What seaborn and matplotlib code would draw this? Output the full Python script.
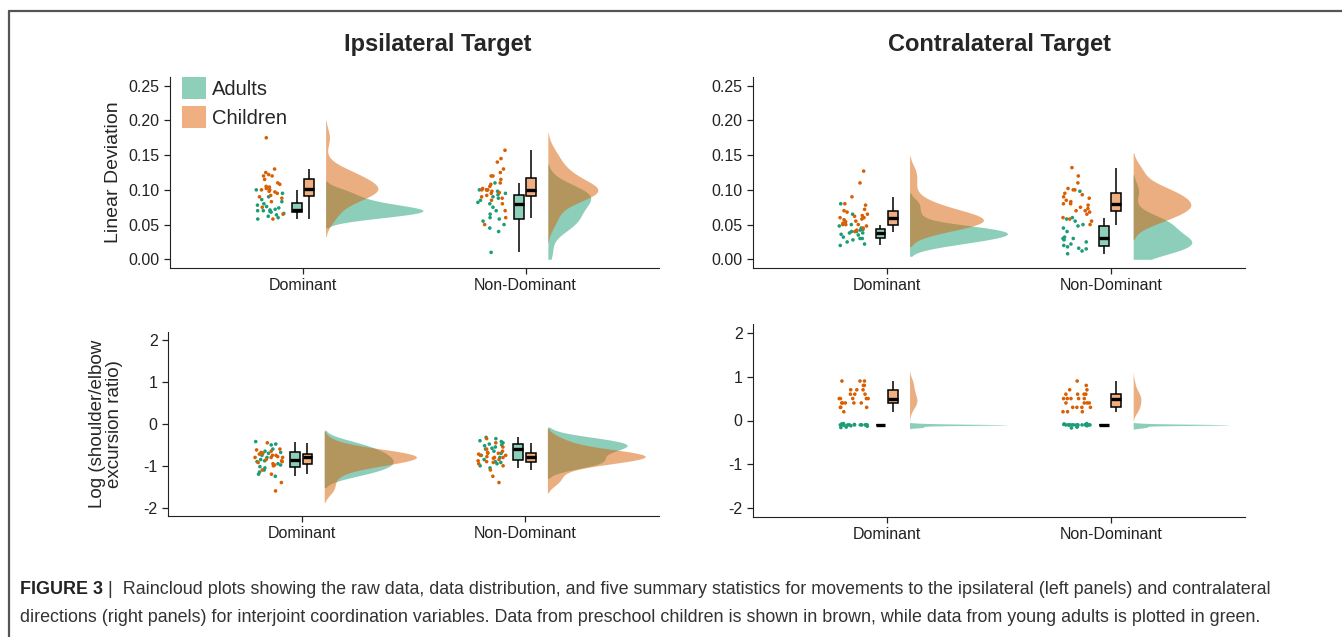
import numpy as np
import pandas as pd
import matplotlib
matplotlib.use('Agg')
import matplotlib.pyplot as plt
import seaborn as sns
from matplotlib.patches import Patch
from matplotlib.lines import Line2D

np.random.seed(7)

sides = ['Dominant', 'Non-Dominant']
groups = ['Adults', 'Children']

# Linear deviation - ipsilateral target
lin_ipsi_adults_dom = [0.058, 0.06, 0.062, 0.064, 0.066, 0.068, 0.069, 0.07, 0.07, 0.071,
                       0.072, 0.074, 0.076, 0.078, 0.08, 0.083, 0.086, 0.09, 0.095, 0.1]
lin_ipsi_children_dom = [0.058, 0.065, 0.075, 0.083, 0.088, 0.09, 0.092, 0.095, 0.097, 0.098,
                         0.1, 0.1, 0.102, 0.104, 0.105, 0.108, 0.11, 0.115, 0.12, 0.12,
                         0.122, 0.125, 0.13, 0.175]
lin_ipsi_adults_nd = [0.01, 0.04, 0.045, 0.05, 0.055, 0.058, 0.06, 0.065, 0.07, 0.075,
                      0.08, 0.082, 0.085, 0.088, 0.09, 0.093, 0.095, 0.098, 0.1, 0.1, 0.11]
lin_ipsi_children_nd = [0.05, 0.06, 0.07, 0.08, 0.085, 0.088, 0.09, 0.092, 0.095, 0.096,
                        0.098, 0.1, 0.1, 0.1, 0.1, 0.102, 0.105, 0.108, 0.11, 0.115,
                        0.12, 0.12, 0.125, 0.13, 0.14, 0.145, 0.157]

# Linear deviation - contralateral target
lin_contra_adults_dom = [0.02, 0.022, 0.025, 0.028, 0.03, 0.03, 0.032, 0.035, 0.036, 0.038,
                         0.038, 0.04, 0.04, 0.042, 0.043, 0.045, 0.048, 0.05, 0.065, 0.08]
lin_contra_children_dom = [0.04, 0.042, 0.045, 0.048, 0.05, 0.05, 0.05, 0.052, 0.054, 0.055,
                           0.057, 0.058, 0.06, 0.06, 0.062, 0.063, 0.065, 0.068, 0.07, 0.072,
                           0.078, 0.08, 0.09, 0.11, 0.127]
lin_contra_adults_nd = [0.008, 0.012, 0.015, 0.016, 0.018, 0.02, 0.022, 0.025, 0.028, 0.03,
                        0.03, 0.032, 0.04, 0.045, 0.048, 0.05, 0.055, 0.058, 0.06, 0.098]
lin_contra_children_nd = [0.05, 0.055, 0.058, 0.06, 0.065, 0.068, 0.07, 0.07, 0.073, 0.075,
                          0.078, 0.08, 0.08, 0.083, 0.085, 0.088, 0.09, 0.093, 0.095, 0.1,
                          0.1, 0.102, 0.11, 0.12, 0.132]

# Log shoulder/elbow excursion ratio - ipsilateral target
log_ipsi_adults_dom = [-1.25, -1.2, -1.15, -1.1, -1.05, -1.02, -0.98, -0.95, -0.9, -0.88,
                       -0.85, -0.8, -0.75, -0.7, -0.68, -0.65, -0.6, -0.5, -0.48, -0.42]
log_ipsi_children_dom = [-1.6, -1.4, -1.2, -1.1, -1.0, -0.98, -0.95, -0.92, -0.9, -0.88,
                         -0.85, -0.8, -0.8, -0.8, -0.78, -0.75, -0.75, -0.72, -0.7, -0.68,
                         -0.65, -0.62, -0.6, -0.45]
log_ipsi_adults_nd = [-1.05, -1.0, -0.95, -0.92, -0.9, -0.85, -0.8, -0.75, -0.7, -0.65,
                      -0.6, -0.58, -0.55, -0.52, -0.5, -0.48, -0.45, -0.42, -0.4, -0.35, -0.32]
log_ipsi_children_nd = [-1.4, -1.25, -1.1, -1.0, -0.95, -0.92, -0.9, -0.88, -0.85, -0.82,
                        -0.8, -0.8, -0.78, -0.75, -0.75, -0.72, -0.7, -0.7, -0.68, -0.65,
                        -0.6, -0.55, -0.45, -0.35]

# Log shoulder/elbow excursion ratio - contralateral target
log_contra_adults_dom = [-0.16, -0.15, -0.13, -0.12, -0.1, -0.1, -0.1, -0.1, -0.1, -0.1,
                         -0.1, -0.1, -0.1, -0.1, -0.1, -0.1, -0.09, -0.08, -0.08, -0.07]
log_contra_children_dom = [0.2, 0.3, 0.3, 0.3, 0.4, 0.4, 0.4, 0.4, 0.4, 0.5,
                           0.5, 0.5, 0.5, 0.5, 0.6, 0.6, 0.6, 0.7, 0.7, 0.7,
                           0.8, 0.8, 0.9, 0.9, 0.9]
log_contra_adults_nd = [-0.17, -0.15, -0.14, -0.12, -0.1, -0.1, -0.1, -0.1, -0.1, -0.1,
                        -0.1, -0.1, -0.1, -0.1, -0.1, -0.1, -0.09, -0.09, -0.08, -0.07]
log_contra_children_nd = [0.2, 0.2, 0.2, 0.3, 0.3, 0.3, 0.3, 0.4, 0.4, 0.4,
                          0.4, 0.5, 0.5, 0.5, 0.5, 0.5, 0.6, 0.6, 0.6, 0.6,
                          0.7, 0.7, 0.8, 0.9]

point_colors = {'Adults': '#1B9E77', 'Children': '#D95F02'}
fill_colors = {'Adults': '#8ECFB9', 'Children': '#EFAF80'}

sns.set_style('ticks')
plt.rcParams['font.family'] = ['Liberation Sans', 'DejaVu Sans']
plt.rcParams['axes.edgecolor'] = '#222222'


def make_df(a_dom, c_dom, a_nd, c_nd):
    rows = []
    for side, grp, vals in [('Dominant', 'Adults', a_dom), ('Dominant', 'Children', c_dom),
                            ('Non-Dominant', 'Adults', a_nd), ('Non-Dominant', 'Children', c_nd)]:
        for v in vals:
            rows.append((side, grp, v))
    df = pd.DataFrame(rows, columns=['side', 'group', 'value'])
    df['pos'] = df['side'].map({s: i for i, s in enumerate(sides)})
    return df


def raincloud(ax, df, ylim, clip):
    ax.set_xlim(-0.6, 1.6)
    ax.set_ylim(ylim)
    # raw data
    pts = df.assign(x=df['pos'] - 0.15)
    sns.stripplot(data=pts, x='x', y='value', hue='group', palette=point_colors,
                  native_scale=True, orient='x', jitter=0.065, size=2.6, linewidth=0,
                  legend=False, ax=ax, zorder=3)
    # boxes
    box = df.assign(x=df['pos'] + df['group'].map({'Adults': -0.03, 'Children': 0.025}))
    sns.boxplot(data=box, x='x', y='value', hue='group', palette=fill_colors, saturation=1,
                native_scale=True, orient='x', dodge=False, width=0.8, showfliers=False,
                showcaps=False, linecolor='black', linewidth=1.1,
                medianprops={'linewidth': 2.4}, legend=False, ax=ax)
    # half violins: kde drawn on an inset placed right of each box pair
    insets = []
    for i, side in enumerate(sides):
        ins = ax.inset_axes([i + 0.1, ylim[0], 0.46, ylim[1] - ylim[0]],
                            transform=ax.transData)
        # children drawn last so the overlap turns brown
        sns.kdeplot(data=df[df['side'] == side], y='value', hue='group',
                    hue_order=['Children', 'Adults'], palette=point_colors, fill=True,
                    alpha=0.5, linewidth=0, common_norm=False, cut=2, clip=clip,
                    legend=False, ax=ins)
        insets.append(ins)
    top = max(ins.get_xlim()[1] for ins in insets)
    for ins in insets:
        ins.set_xlim(0, top)
        ins.set_ylim(ylim)
        ins.set_xticks([])
        ins.set_yticks([])
        ins.set_xlabel('')
        ins.set_ylabel('')
        ins.set_axis_off()
    ax.set_ylim(ylim)
    ax.set_xlim(-0.6, 1.6)
    ax.set_xticks([0, 1], sides)
    ax.set_xlabel('')
    ax.set_ylabel('')
    ax.tick_params(labelsize=11.5, length=4, width=0.9, colors='#222222')
    sns.despine(ax=ax)


W, H = 1342, 637
fig = plt.figure(figsize=(W / 100, H / 100), dpi=100)


def px_axes(left, right, top, bottom):
    return fig.add_axes([left / W, 1 - bottom / H, (right - left) / W, (bottom - top) / H])


ax_tl = px_axes(170, 659, 77, 268)
ax_tr = px_axes(753, 1245, 77, 268)
ax_bl = px_axes(168, 659, 332, 516)
ax_br = px_axes(753, 1245, 324, 517)

lin_lim = (-0.0125, 0.2625)
log_lim = (-2.2, 2.2)

raincloud(ax_tl, make_df(lin_ipsi_adults_dom, lin_ipsi_children_dom,
                         lin_ipsi_adults_nd, lin_ipsi_children_nd), lin_lim, (0, None))
raincloud(ax_tr, make_df(lin_contra_adults_dom, lin_contra_children_dom,
                         lin_contra_adults_nd, lin_contra_children_nd), lin_lim, (0, None))
raincloud(ax_bl, make_df(log_ipsi_adults_dom, log_ipsi_children_dom,
                         log_ipsi_adults_nd, log_ipsi_children_nd), log_lim, (None, None))
raincloud(ax_br, make_df(log_contra_adults_dom, log_contra_children_dom,
                         log_contra_adults_nd, log_contra_children_nd), log_lim, (None, None))

lin_ticks = [0.0, 0.05, 0.10, 0.15, 0.20, 0.25]
log_ticks = [-2, -1, 0, 1, 2]
for ax in (ax_tl, ax_tr):
    ax.set_yticks(lin_ticks, ['%.2f' % t for t in lin_ticks])
for ax in (ax_bl, ax_br):
    ax.set_yticks(log_ticks, [str(t) for t in log_ticks])

ax_tl.set_ylabel('Linear Deviation', fontsize=14)
ax_tl.yaxis.set_label_coords(-0.098, 0.5)
ax_bl.set_ylabel('Log (shoulder/elbow\nexcursion ratio)', fontsize=13.5, linespacing=1.0)
ax_bl.yaxis.set_label_coords(-0.092, 0.5)

handles = [Patch(facecolor=fill_colors[g], edgecolor='none', label=g) for g in groups]
ax_tl.legend(handles=handles, loc='upper left', bbox_to_anchor=(182 / W, 1 - 77 / H),
             bbox_transform=fig.transFigure, frameon=False, fontsize=14.5,
             handlelength=1.2, handleheight=1.3, handletextpad=0.3, labelspacing=0.35,
             borderaxespad=0, borderpad=0)

fig.text(438 / W, 1 - 45 / H, 'Ipsilateral Target', ha='center', va='center',
         fontsize=17, fontweight='bold')
fig.text(1000 / W, 1 - 45 / H, 'Contralateral Target', ha='center', va='center',
         fontsize=17, fontweight='bold')

# frame around the figure
fig.add_artist(Line2D([9 / W, 1], [1 - 11 / H, 1 - 11 / H], color='#555555', lw=1.6,
                      transform=fig.transFigure))
fig.add_artist(Line2D([9 / W, 9 / W], [0, 1 - 11 / H], color='#555555', lw=1.6,
                      transform=fig.transFigure))

# caption
cap_font = ['Liberation Sans', 'DejaVu Sans']
cap_size = 12.9
t1 = fig.text(20 / W, 1 - 590 / H, 'FIGURE 3', fontsize=cap_size, fontweight='bold',
              family=cap_font, color='#222222', va='center')
fig.canvas.draw()
bb = t1.get_window_extent()
fig.text(bb.x1 / W, 1 - 590 / H,
         ' |  Raincloud plots showing the raw data, data distribution, and five summary statistics '
         'for movements to the ipsilateral (left panels) and contralateral',
         fontsize=cap_size, family=cap_font, color='#333333', va='center')
fig.text(20 / W, 1 - 617 / H,
         'directions (right panels) for interjoint coordination variables. Data from preschool '
         'children is shown in brown, while data from young adults is plotted in green.',
         fontsize=cap_size, family=cap_font, color='#333333', va='center')

fig.savefig('out.png', dpi=100)
